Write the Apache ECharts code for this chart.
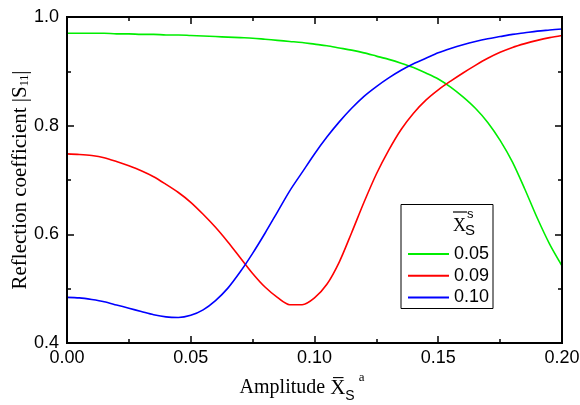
<!DOCTYPE html>
<html>
<head>
<meta charset="utf-8">
<script src="https://cdn.jsdelivr.net/npm/echarts@6/dist/echarts.min.js"></script>
<style>
html,body{margin:0;padding:0;background:#fff;}
#chart{width:580px;height:405px;}
</style>
</head>
<body>
<div id="chart"></div>
<script>
// Amplitude (x) sample points
const amplitude = [0.000,0.005,0.010,0.015,0.020,0.025,0.030,0.035,0.040,0.045,
  0.050,0.055,0.060,0.065,0.070,0.075,0.080,0.085,0.090,0.095,
  0.100,0.105,0.110,0.115,0.120,0.125,0.130,0.135,0.140,0.145,
  0.150,0.155,0.160,0.165,0.170,0.175,0.180,0.185,0.190,0.195,0.200];

// Series names (legend)
const seriesNames = ['0.05', '0.09', '0.10'];

// Reflection coefficient |S11|, Xs = 0.05
const s005 = [0.970,0.970,0.970,0.970,0.969,0.969,0.968,0.968,0.967,0.967,
  0.966,0.965,0.964,0.963,0.962,0.961,0.959,0.957,0.955,0.953,
  0.950,0.947,0.943,0.939,0.934,0.928,0.922,0.915,0.907,0.897,
  0.886,0.871,0.853,0.832,0.806,0.773,0.733,0.683,0.630,0.582,0.542];

// Xs = 0.09
const s009 = [0.748,0.747,0.745,0.741,0.734,0.726,0.717,0.706,0.692,0.677,
  0.659,0.637,0.613,0.586,0.557,0.528,0.503,0.484,0.4705,0.4705,
  0.483,0.508,0.549,0.603,0.659,0.711,0.755,0.793,0.823,0.847,
  0.866,0.882,0.897,0.911,0.924,0.935,0.944,0.951,0.957,0.962,0.966];

// Xs = 0.10
const s010 = [0.484,0.483,0.480,0.476,0.470,0.464,0.458,0.452,0.448,0.447,
  0.451,0.461,0.478,0.501,0.531,0.565,0.602,0.641,0.680,0.714,
  0.748,0.779,0.807,0.832,0.854,0.872,0.888,0.902,0.914,0.924,
  0.934,0.942,0.949,0.955,0.960,0.964,0.968,0.971,0.974,0.976,0.978];

const xTicks = {min: 0, max: 0.2, interval: 0.05};
const yTicks = {min: 0.4, max: 1.0, interval: 0.2};

const colors = ['#00ee00', '#ff0000', '#0000ff'];
const allSeries = [s005, s009, s010];

const chart = echarts.init(document.getElementById('chart'));

const frameColor = '#000000';
const gridBox = {left: 67, top: 17, width: 495, height: 326};

function axisParts() {
  return {
    axisLine: {show: true, onZero: false, lineStyle: {color: frameColor, width: 2}},
    axisTick: {show: true, inside: true, length: 7, lineStyle: {color: frameColor, width: 1.5}},
    minorTick: {show: true, splitNumber: 2, length: 4, lineStyle: {color: frameColor, width: 1.5}},
    splitLine: {show: false}
  };
}

const option = {
  animation: false,
  grid: {left: gridBox.left, top: gridBox.top, width: gridBox.width, height: gridBox.height, outerBoundsMode: 'none'},
  xAxis: [
    Object.assign({
      type: 'value', position: 'bottom',
      min: xTicks.min, max: xTicks.max, interval: xTicks.interval,
      axisLabel: {formatter: v => v.toFixed(2), color: '#000', fontFamily: 'Liberation Sans', fontSize: 18, margin: 6}
    }, axisParts()),
    Object.assign({
      type: 'value', position: 'top',
      min: xTicks.min, max: xTicks.max, interval: xTicks.interval,
      axisLabel: {show: false}
    }, axisParts())
  ],
  yAxis: [
    Object.assign({
      type: 'value', position: 'left',
      min: yTicks.min, max: yTicks.max, interval: yTicks.interval,
      axisLabel: {formatter: v => v.toFixed(1), color: '#000', fontFamily: 'Liberation Sans', fontSize: 18, margin: 8}
    }, axisParts()),
    Object.assign({
      type: 'value', position: 'right',
      min: yTicks.min, max: yTicks.max, interval: yTicks.interval,
      axisLabel: {show: false}
    }, axisParts())
  ],
  legend: {
    orient: 'vertical',
    left: 408, top: 245,
    padding: 0,
    z: 10,
    icon: 'rect',
    itemWidth: 41, itemHeight: 2, itemGap: 3.7,
    data: seriesNames,
    textStyle: {color: '#000', fontFamily: 'Liberation Sans', fontSize: 18, lineHeight: 18}
  },
  graphic: [
    // plot frame
    {type: 'rect', shape: {x: gridBox.left, y: gridBox.top, width: gridBox.width, height: gridBox.height},
      style: {fill: null, stroke: frameColor, lineWidth: 2}, z: 100, silent: true},
    // x-axis title
    {type: 'text', x: 302, y: 388, z: 6, silent: true,
      style: {
        text: 'Amplitude {x|X\u0305}{sub|S}{sup|a}',
        font: '20px "Liberation Serif"', fill: '#000', align: 'center', verticalAlign: 'middle',
        rich: {
          x: {fontFamily: 'Liberation Serif', fontSize: 21, fill: '#000'},
          sub: {fontFamily: 'Liberation Sans', fontSize: 14, padding: [16, 0, 0, 0], fill: '#000'},
          sup: {fontFamily: 'Liberation Serif', fontSize: 13, padding: [0, 0, 20, 4], fill: '#000'}
        }
      }},
    // y-axis title
    {type: 'text', x: 20, y: 180, rotation: Math.PI / 2, z: 6, silent: true,
      style: {
        text: 'Reflection coefficient |S{sub|11}|',
        font: '21px "Liberation Serif"', fill: '#000', align: 'center', verticalAlign: 'middle',
        rich: {
          sub: {fontFamily: 'Liberation Serif', fontSize: 12, padding: [9, 0, 0, 0], fill: '#000'}
        }
      }},
    // legend box and title
    {type: 'rect', shape: {x: 401, y: 204.5, width: 92, height: 104}, style: {fill: '#fff', stroke: '#000', lineWidth: 1}, z: 1},
    {type: 'text', x: 453, y: 217, style: {text: 'X', font: '18px "Liberation Serif"', fill: '#000'}, z: 6},
    {type: 'line', shape: {x1: 453, y1: 212, x2: 467, y2: 212}, style: {stroke: '#000', lineWidth: 1.2}, z: 6},
    {type: 'text', x: 467, y: 208, style: {text: 's', font: '13px "Liberation Sans"', fill: '#000'}, z: 6},
    {type: 'text', x: 465, y: 223, style: {text: 'S', font: '15px "Liberation Sans"', fill: '#000'}, z: 6}
  ],
  series: seriesNames.map((n, i) => ({
    name: n,
    type: 'line',
    data: amplitude.map((x, k) => [x, allSeries[i][k]]),
    smooth: 0.3,
    symbol: 'none',
    color: colors[i],
    lineStyle: {color: colors[i], width: 1.6},
    z: 3
  }))
};
chart.setOption(option);
</script>
</body>
</html>
